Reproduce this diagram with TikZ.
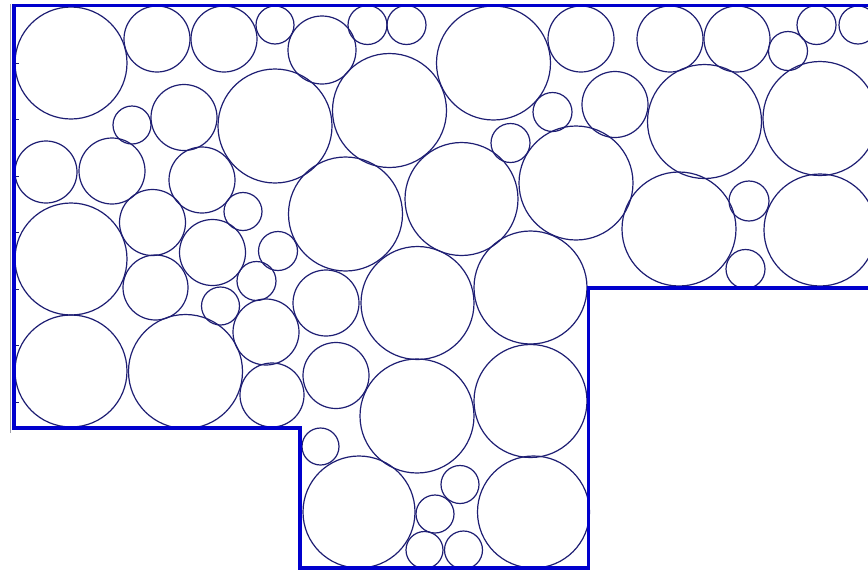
\documentclass[tikz,border=0pt]{standalone}
\definecolor{circblue}{RGB}{30,30,115}
\definecolor{wallblue}{RGB}{0,0,205}
\definecolor{edgegrey}{RGB}{160,160,170}
\begin{document}
\begin{tikzpicture}[x=1pt,y=-1pt,
  circ/.style={draw=circblue, line width=1.2pt},
  wall/.style={draw=wallblue, line width=3.5pt, line join=miter},
  tickmark/.style={draw=circblue, line width=1pt}]
\useasboundingbox (0,0) rectangle (868,571);
\clip (0,0) rectangle (868,571);
\fill[white] (0,0) rectangle (868,571);
% circles: x/y/r
\foreach \cx/\cy/\r in {
  71/63/56, 157/39/33, 224/39/33, 275/25/19, 322/50/34, 367.5/25/19.5, 406.5/25/19.5,
  493.5/63/57, 581/39/33, 670/39/33, 737/39/33, 788/51/19.5, 816.5/25/19.5, 858/25/19,
  132/125/19, 184/117.5/33, 275/126/57, 389.5/110.5/57, 510.5/143/19.5, 552.5/112/19.5,
  615/104.5/33, 704.5/121.5/57, 820/118.5/57,
  46/172/31, 112/171/33, 202/180/33, 243/211.5/19, 345.5/214/57, 461.5/199/56.5,
  576/183/57, 679/229/57, 749/201/20, 820/230/56, 745.5/269/19.5,
  71/259/56, 152.5/222.5/33, 212.5/252.5/33, 155.5/287.5/32.5, 256.5/281/19.5,
  278/251/19.5, 220.5/306/19, 266/332/33, 326/303/33, 417.5/303/56.5, 530.5/287.5/56.5,
  71/371/56, 185.5/371.5/57, 272/395/32, 336/375.5/33, 417/416/57, 530.5/401/56.5,
  320.5/446.5/18.5, 359/512/56, 460/484.5/19, 435/514/19, 424.5/550/18.5, 463.5/550/19,
  533.5/512/56}
  \draw[circ] (\cx,\cy) circle[radius=\r pt];
% left grey edge and tick marks
\draw[edgegrey, line width=1.5pt] (10.5,4) -- (10.5,433);
\foreach \ty in {63,119.5,176,232.5,289,345.5,402}
  \draw[tickmark] (14,\ty) -- (19,\ty);
% boundary
\draw[wall] (870,5.5) -- (14,5.5) -- (14,428) -- (300,428) -- (300,568)
  -- (588.5,568) -- (588.5,288) -- (870,288);
\end{tikzpicture}
\end{document}
